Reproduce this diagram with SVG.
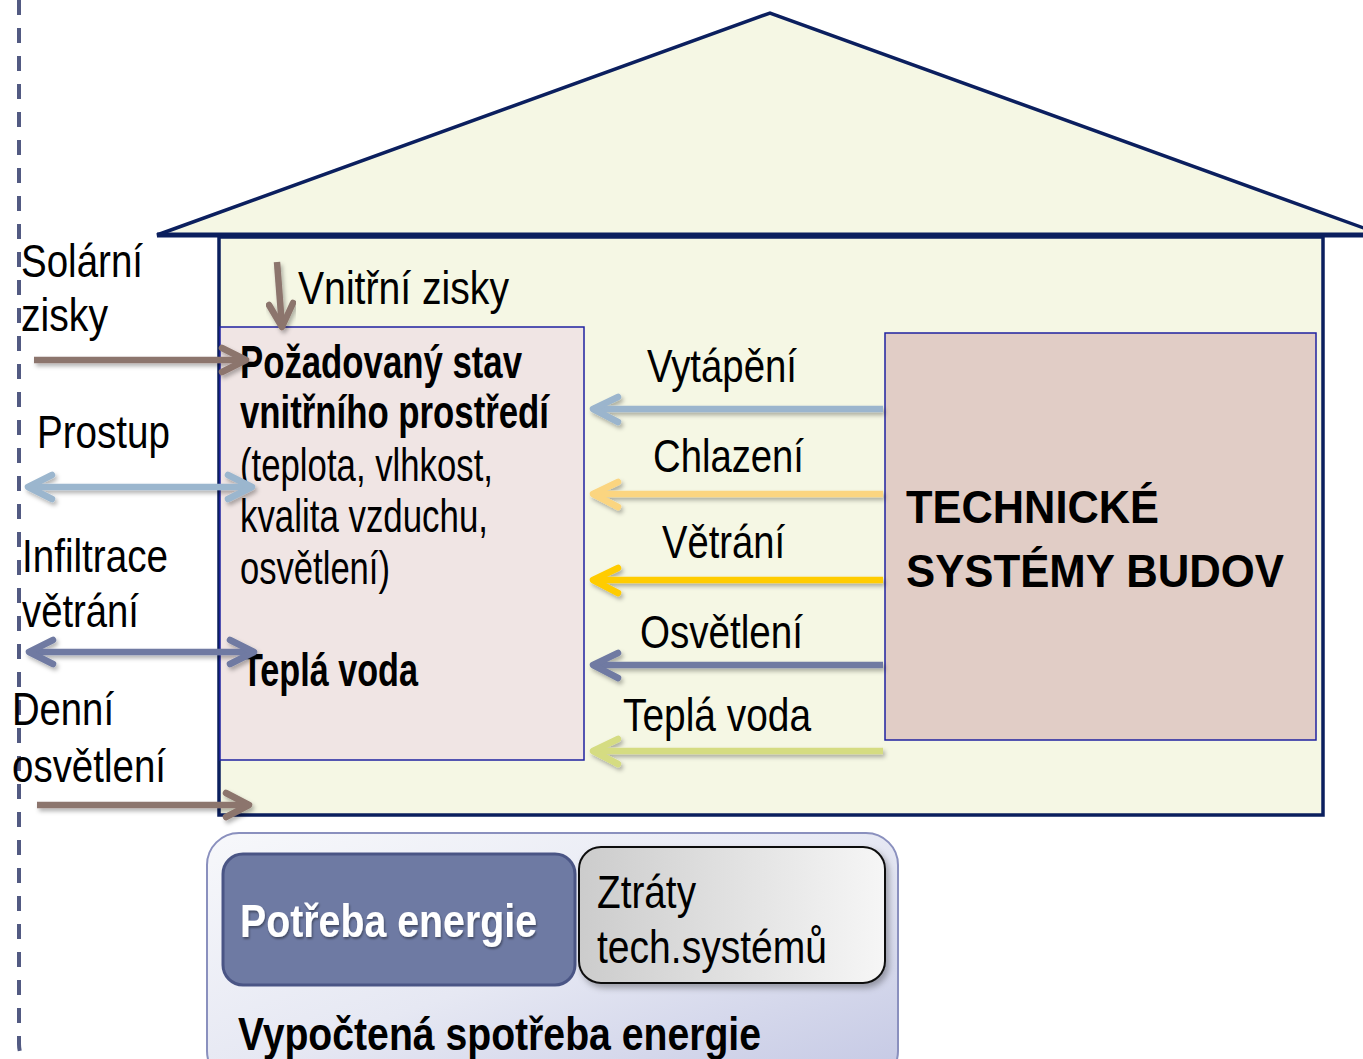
<svg xmlns="http://www.w3.org/2000/svg" width="1363" height="1059" viewBox="0 0 1363 1059">
  <defs>
    <style>
      .lbl { font-family: "Liberation Sans Narrow", "Liberation Sans", Arial, sans-serif; font-size: 46px; fill: #000; }
      .bold { font-weight: bold; }
      .conn { fill: none; stroke-width: 6.5; }
      .head { fill: none; stroke-width: 6.5; stroke-linecap: round; stroke-linejoin: round; }
    </style>
    <filter id="shadow" x="-10%" y="-60%" width="120%" height="220%">
      <feDropShadow dx="2" dy="3" stdDeviation="2" flood-color="#000" flood-opacity="0.3"/>
    </filter>
    <filter id="boxShadow" x="-10%" y="-10%" width="125%" height="130%">
      <feDropShadow dx="3" dy="4" stdDeviation="3" flood-color="#000" flood-opacity="0.3"/>
    </filter>
    <filter id="textShadow" x="-5%" y="-20%" width="110%" height="140%">
      <feDropShadow dx="1" dy="2" stdDeviation="1" flood-color="#000" flood-opacity="0.4"/>
    </filter>
    <linearGradient id="outerFill" x1="0" y1="0" x2="1" y2="1">
      <stop offset="0" stop-color="#F7F8FB"/>
      <stop offset="0.5" stop-color="#E6E8F3"/>
      <stop offset="1" stop-color="#C4C8E4"/>
    </linearGradient>
    <linearGradient id="lossFill" x1="0" y1="0" x2="1" y2="0">
      <stop offset="0" stop-color="#CCCCCC"/>
      <stop offset="1" stop-color="#F6F6F6"/>
    </linearGradient>
  </defs>

  <!-- system boundary -->
  <path d="M19,0 V1044 Q19,1053 24,1062" fill="none" stroke="#525A82" stroke-width="4" stroke-dasharray="15 13"/>

  <!-- building -->
  <g id="roof">
    <polygon points="157,235 770,13 1383,235" fill="#F5F7E4" stroke="#0B1F5E" stroke-width="3.5" stroke-linejoin="miter"/>
    <line x1="157" y1="235" x2="1363" y2="235" stroke="#0B1F5E" stroke-width="5"/>
  </g>
  <g id="house">
    <rect x="219" y="237" width="1104" height="578" fill="#F5F7E4" stroke="#0B1F5E" stroke-width="3.5"/>
  </g>

  <g id="indoor">
    <rect x="220" y="327" width="364" height="433" fill="#F0E5E4" stroke="#1F22A0" stroke-width="1.5"/>
    <text class="lbl bold" x="240" y="378" font-size="42" textLength="282" lengthAdjust="spacingAndGlyphs">Požadovaný stav</text>
    <text class="lbl bold" x="240" y="428" font-size="42" textLength="309" lengthAdjust="spacingAndGlyphs">vnitřního prostředí</text>
    <text class="lbl" x="240" y="481" textLength="253" lengthAdjust="spacingAndGlyphs">(teplota, vlhkost,</text>
    <text class="lbl" x="240" y="532" textLength="248" lengthAdjust="spacingAndGlyphs">kvalita vzduchu,</text>
    <text class="lbl" x="240" y="584" textLength="150" lengthAdjust="spacingAndGlyphs">osvětlení)</text>
    <text class="lbl bold" x="242" y="686" font-size="42" textLength="176" lengthAdjust="spacingAndGlyphs">Teplá voda</text>
  </g>

  <g id="tech-systems">
    <rect x="885" y="333" width="431" height="407" fill="#E1CDC6" stroke="#1F22A0" stroke-width="1.5"/>
    <text class="lbl bold" x="906" y="523" font-size="53" textLength="253" lengthAdjust="spacingAndGlyphs">TECHNICKÉ</text>
    <text class="lbl bold" x="906" y="587" font-size="53" textLength="378" lengthAdjust="spacingAndGlyphs">SYSTÉMY BUDOV</text>
  </g>

  <!-- external influences -->
  <g id="labels-left">
    <text class="lbl" x="21" y="277" textLength="122" lengthAdjust="spacingAndGlyphs">Solární</text>
    <text class="lbl" x="21" y="331" textLength="87" lengthAdjust="spacingAndGlyphs">zisky</text>
    <text class="lbl" x="37" y="448" textLength="133" lengthAdjust="spacingAndGlyphs">Prostup</text>
    <text class="lbl" x="22" y="572" textLength="146" lengthAdjust="spacingAndGlyphs">Infiltrace</text>
    <text class="lbl" x="22" y="627" textLength="117" lengthAdjust="spacingAndGlyphs">větrání</text>
    <text class="lbl" x="12" y="725" textLength="102" lengthAdjust="spacingAndGlyphs">Denní</text>
    <text class="lbl" x="12" y="782" textLength="154" lengthAdjust="spacingAndGlyphs">osvětlení</text>
    <text class="lbl" x="298" y="304" textLength="211" lengthAdjust="spacingAndGlyphs">Vnitřní zisky</text>
  </g>

  <!-- supplied services -->
  <g id="labels-right">
    <text class="lbl" x="647" y="382" textLength="150" lengthAdjust="spacingAndGlyphs">Vytápění</text>
    <text class="lbl" x="653" y="472" textLength="151" lengthAdjust="spacingAndGlyphs">Chlazení</text>
    <text class="lbl" x="662" y="558" textLength="123" lengthAdjust="spacingAndGlyphs">Větrání</text>
    <text class="lbl" x="640" y="648" textLength="163" lengthAdjust="spacingAndGlyphs">Osvětlení</text>
    <text class="lbl" x="623" y="731" textLength="188" lengthAdjust="spacingAndGlyphs">Teplá voda</text>
  </g>

  <g id="connectors">
    <!-- solar gains -->
    <g filter="url(#shadow)" stroke="#8C756D">
      <line class="conn" x1="34" y1="360" x2="246" y2="360"/>
      <polyline class="head" points="222,348 246,360 222,372"/>
    </g>
    <!-- internal gains -->
    <g filter="url(#shadow)" stroke="#8C756D">
      <line class="conn" x1="277" y1="262" x2="282" y2="327"/>
      <polyline class="head" points="269,305 282,327 293,303"/>
    </g>
    <!-- transmission -->
    <g filter="url(#shadow)" stroke="#9BB6CE">
      <line class="conn" x1="28" y1="487" x2="252" y2="487"/>
      <polyline class="head" points="52,475 28,487 52,499"/>
      <polyline class="head" points="228,475 252,487 228,499"/>
    </g>
    <!-- infiltration -->
    <g filter="url(#shadow)" stroke="#6F7AA2">
      <line class="conn" x1="29" y1="652" x2="254" y2="652"/>
      <polyline class="head" points="53,640 29,652 53,664"/>
      <polyline class="head" points="230,640 254,652 230,664"/>
    </g>
    <!-- daylight -->
    <g filter="url(#shadow)" stroke="#8C756D">
      <line class="conn" x1="37" y1="805" x2="249" y2="805"/>
      <polyline class="head" points="226,793 249,805 226,817"/>
    </g>
    <!-- heating -->
    <g filter="url(#shadow)" stroke="#9BB5CD">
      <line class="conn" x1="883" y1="409" x2="593" y2="409"/>
      <polyline class="head" points="618,397 593,409 618,422"/>
    </g>
    <!-- cooling -->
    <g filter="url(#shadow)" stroke="#FBD580">
      <line class="conn" x1="883" y1="494" x2="593" y2="494"/>
      <polyline class="head" points="618,482 593,494 618,507"/>
    </g>
    <!-- ventilation -->
    <g filter="url(#shadow)" stroke="#FFCC00">
      <line class="conn" x1="883" y1="580" x2="593" y2="580"/>
      <polyline class="head" points="618,568 593,580 618,593"/>
    </g>
    <!-- lighting -->
    <g filter="url(#shadow)" stroke="#6F7AA2">
      <line class="conn" x1="883" y1="665" x2="593" y2="665"/>
      <polyline class="head" points="618,653 593,665 618,678"/>
    </g>
    <!-- hot water -->
    <g filter="url(#shadow)" stroke="#D5DC82">
      <line class="conn" x1="883" y1="751" x2="593" y2="751"/>
      <polyline class="head" points="618,739 593,751 618,764"/>
    </g>
  </g>

  <!-- energy balance -->
  <g id="calculated-use">
    <rect x="207" y="833" width="691" height="250" rx="32" fill="url(#outerFill)" stroke="#8A90BE" stroke-width="2"/>
    <text class="lbl bold" x="238" y="1050" textLength="523" lengthAdjust="spacingAndGlyphs">Vypočtená spotřeba energie</text>
  </g>
  <g id="energy-need">
    <rect x="223" y="854" width="352" height="131" rx="20" fill="#6E7AA3" stroke="#4A5585" stroke-width="3"/>
    <text class="lbl bold" x="240" y="937" fill="#FFFFFF" style="fill:#FFFFFF" filter="url(#textShadow)" textLength="297" lengthAdjust="spacingAndGlyphs">Potřeba energie</text>
  </g>
  <g id="system-losses">
    <rect x="579" y="847" width="306" height="136" rx="22" fill="url(#lossFill)" stroke="#111111" stroke-width="2" filter="url(#boxShadow)"/>
    <text class="lbl" x="597" y="908" textLength="99" lengthAdjust="spacingAndGlyphs">Ztráty</text>
    <text class="lbl" x="597" y="963" textLength="230" lengthAdjust="spacingAndGlyphs">tech.systémů</text>
  </g>
</svg>
